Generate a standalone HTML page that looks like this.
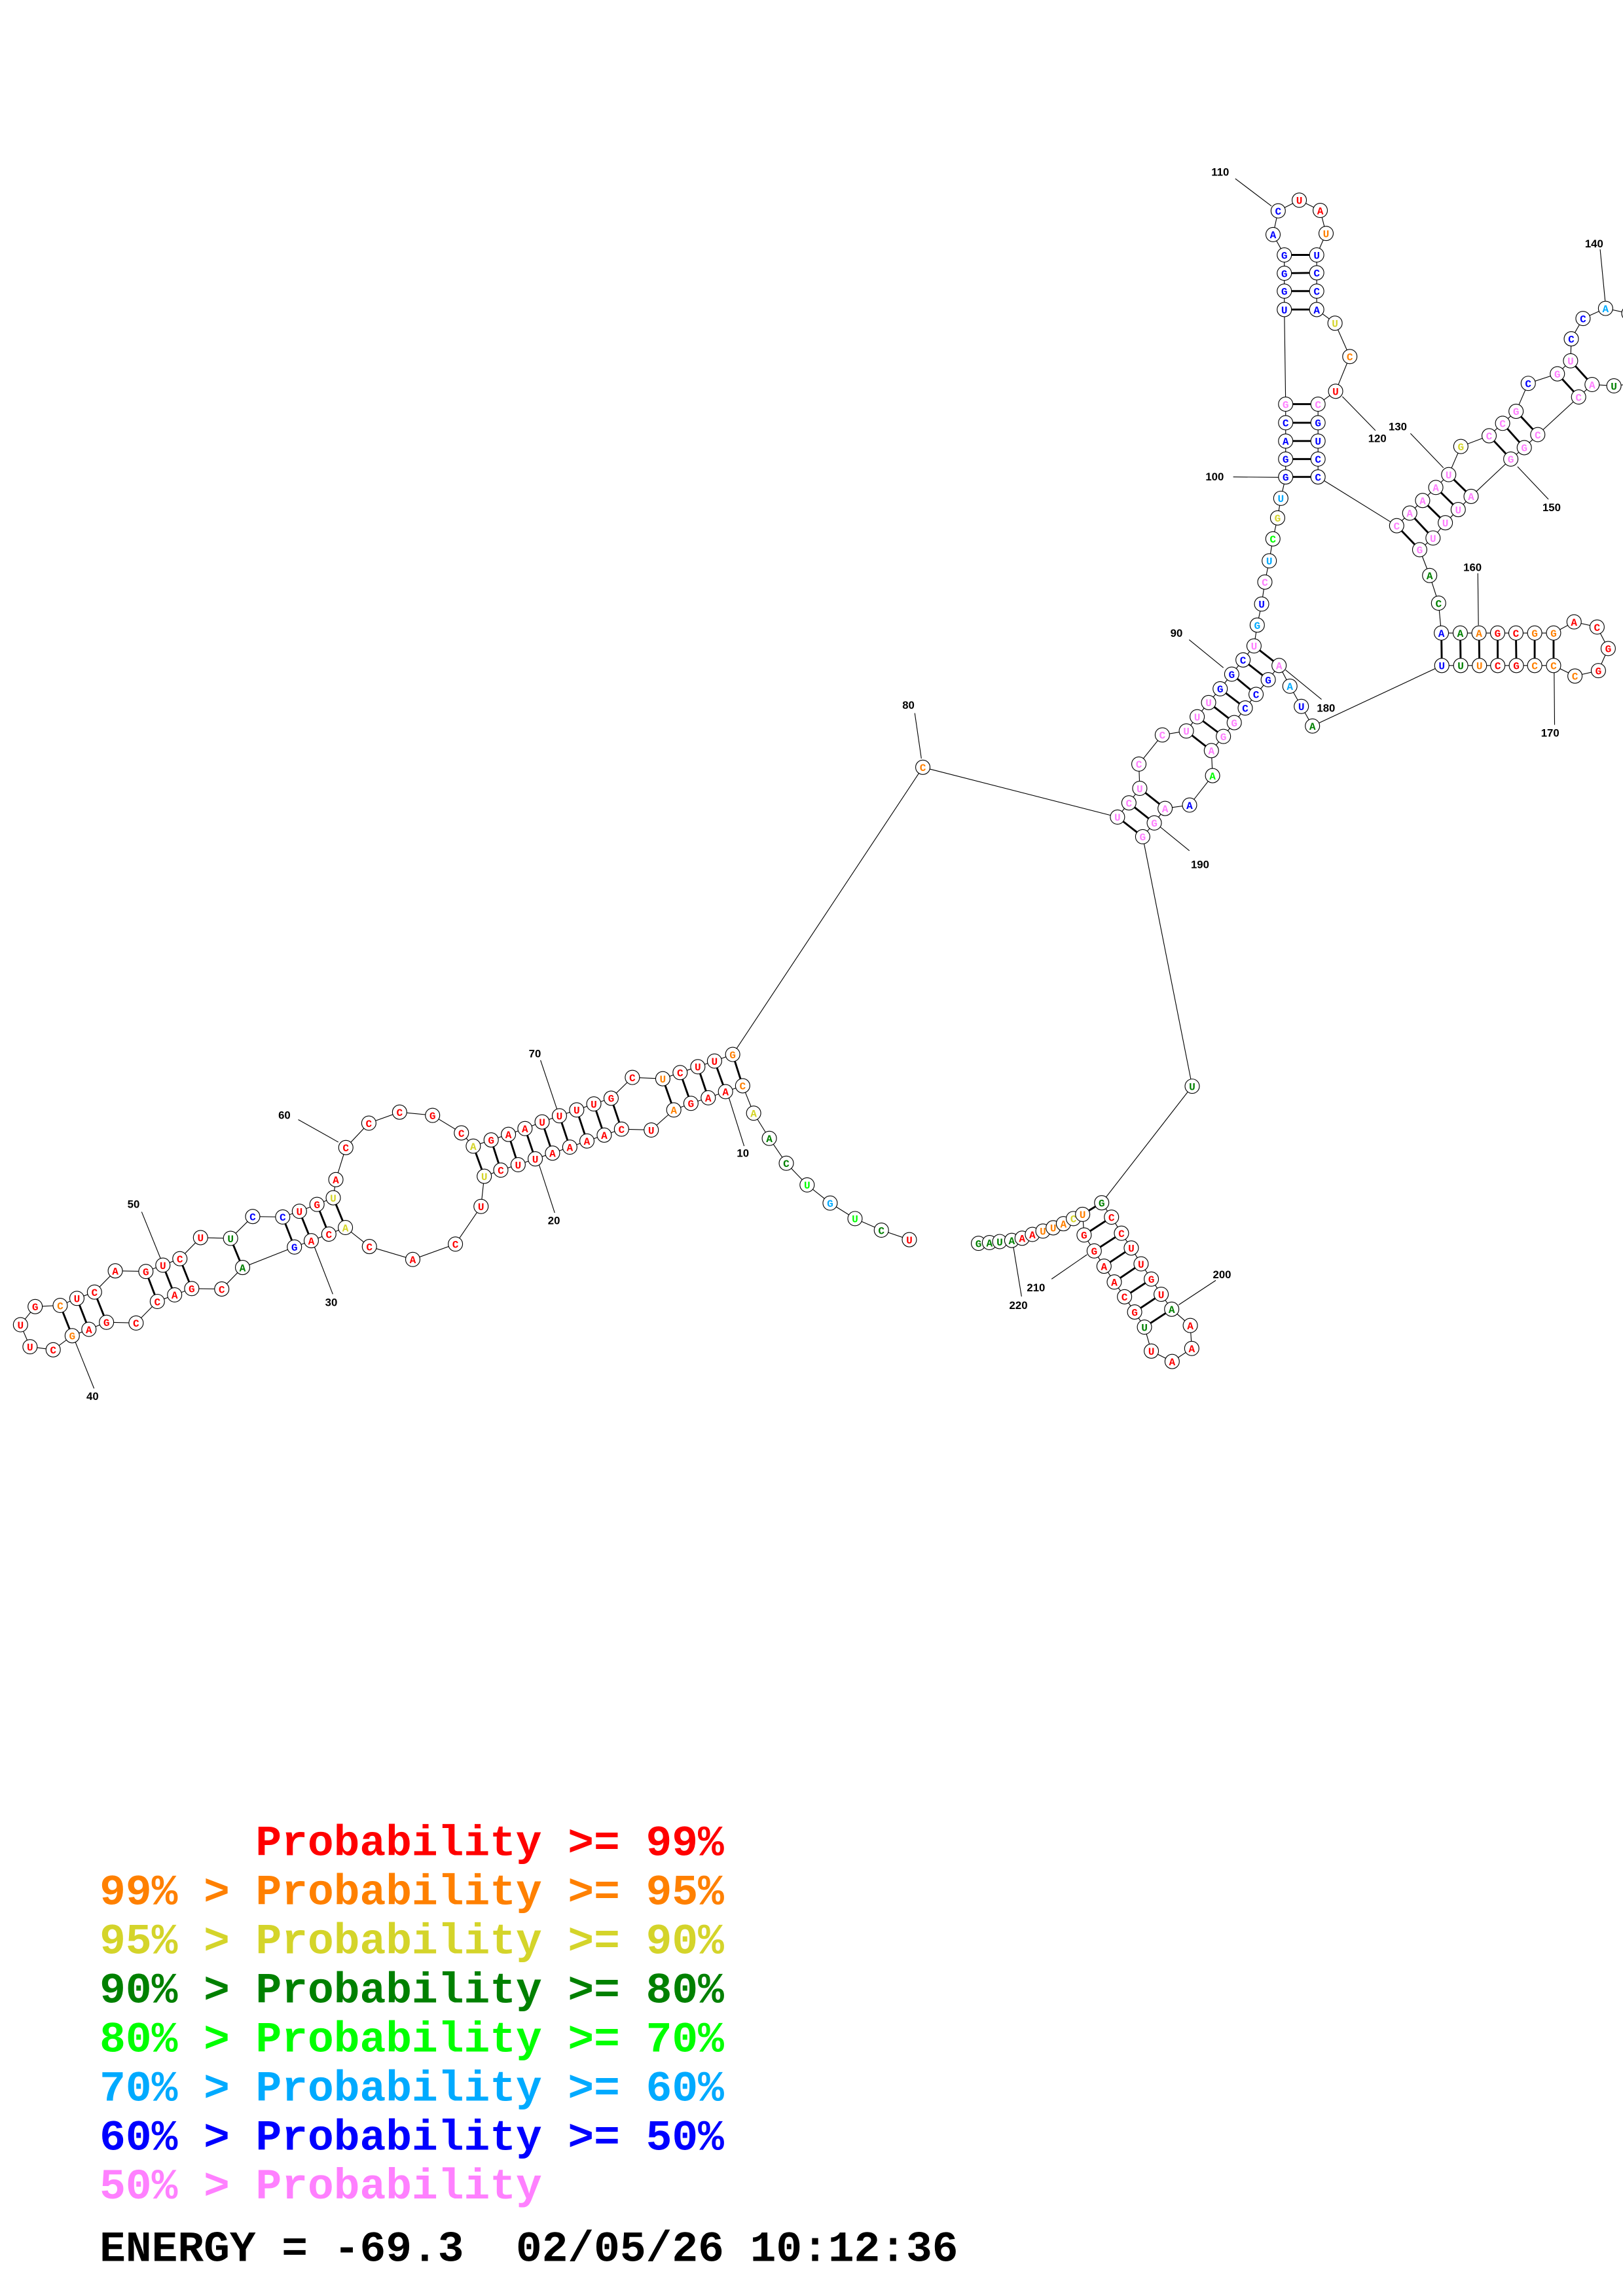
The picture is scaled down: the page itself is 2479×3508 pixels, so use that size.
<!DOCTYPE html>
<html><head><meta charset="utf-8"><style>
html,body{margin:0;padding:0;background:#fff}
svg{display:block}
.bb{fill:none;stroke:#000;stroke-width:.5}
.pr line{stroke:#000;stroke-width:1.3}
.ln line{stroke:#000;stroke-width:.5}
circle{fill:#fff;stroke:#000;stroke-width:.5}
.n{font-family:"Liberation Mono",monospace;font-weight:bold;font-size:7.2px;text-anchor:middle}
.lb{font-family:"Liberation Sans","DejaVu Sans",sans-serif;font-weight:bold;font-size:7.5px}
.lg{font-family:"Liberation Mono",monospace;font-weight:bold;font-size:29.6px}
.r{fill:#ff0000}.o{fill:#ff8000}.y{fill:#d4d42a}.g{fill:#008000}.lgr{fill:#00ff00}.lbl{fill:#00aaff}.b{fill:#0000ff}.p{fill:#ff80ff}.k{fill:#000}
</style></head><body>
<svg width="2479" height="3508" viewBox="0 0 1108 1568" preserveAspectRatio="none" xmlns="http://www.w3.org/2000/svg">
<polyline class="bb" points="620.8,846.6 601.7,840.1 583.7,832.2 566.7,821.6 551,809.2 536.8,794.4 525.2,777.4 514.5,760.2 507,741.5 495.3,745.5 483.5,749.7 471.7,753.5 460,758 444.6,771.7 424.3,771.1 412.5,775.2 400.7,779.2 389,783.4 377.2,787.5 365.4,791.4 353.7,795.4 341.9,799.1 330.6,803.3 328.4,823.9 310.9,849.6 281.8,860.1 252.2,851.3 235.8,838.3 224.5,842.8 212.5,847.3 201,851.6 165.6,865.6 151.4,880.3 130.9,880 119.2,884.3 107.4,888.8 92.9,903.5 72.7,903 60.7,907.8 49.3,912.2 36.3,921.8 20.5,919.7 14,904.7 24,892.3 41.1,891.5 52.5,886.7 64.5,882.4 78.7,867.9 99.6,868.3 111.2,864 122.8,859.6 136.9,845.2 157.4,845.7 172.5,830.8 193,831.1 204.4,827.2 216.4,822.5 227.5,818 229.3,805.6 236.1,783.7 251.8,767 272.8,759.5 295.3,761.7 315,773.7 323.1,782.7 335.3,778.5 347.1,774.7 358.4,770.7 370.1,766.2 381.9,762 393.7,758 405.4,753.9 417.2,750 431.7,735.8 452.5,736.7 464.3,732.5 476.4,728.5 487.8,724.6 500.2,720.1 630,524 762.9,558 770.7,548.3 778.1,538.4 777.5,521.8 793.5,501.9 809.9,499.2 817.3,489.5 825.1,479.8 833,470.4 840.9,460.4 848.6,450.7 856.1,441.1 858.3,426.9 861.3,412.5 863.5,397.5 866.5,383 869,368 872.2,353.7 874.4,340.3 877.7,325.7 877.7,313.5 877.7,301.2 877.7,288.7 877.7,276 876.8,211.4 876.8,198.8 876.8,186.6 876.8,174.1 869.1,160.2 872.6,144 887,136.7 901.3,143.7 905.3,159.4 898.9,174.1 898.9,186.3 898.9,198.8 898.9,211.4 911.4,220.7 921.5,243.5 911.8,267.2 899.8,276 899.8,288.7 899.8,301.2 899.8,313.5 899.8,325.7 953.5,359 962.4,350.4 971.2,341.8 980.2,332.9 989,324.1 997.3,304.9 1016.6,297.6 1025.8,289.1 1035,280.9 1043.3,261.8 1063.2,255.3 1072.2,246.4 1072.7,231.4 1080.7,217.5 1096.1,210.6 1112,214 1125,235 1115,262 1101.8,263.5 1086.9,262.6 1077.7,271.1 1049.8,296.8 1040.6,305.7 1031.4,313.5 1004.3,339 995.5,348 986.7,357 978.3,367.4 969.2,375.4 976,393 982.1,411.9 984,432.3 996.9,432.3 1009.7,432.3 1022.4,432.3 1034.9,432.3 1047.7,432.3 1060.6,432.3 1074.6,424.7 1090.3,428.2 1097.9,442.9 1091.2,458 1075.2,461.7 1060.6,454.5 1047.7,454.5 1035.2,454.5 1022.5,454.5 1010,454.5 997.2,454.5 984.3,454.5 896,495.8 888.4,482.4 880.6,468.6 873.2,454.5 865.8,464.2 857.5,474.2 850.1,483.5 842.6,493.5 835.2,502.9 827,512.6 827.8,529.7 812.1,549.8 795.4,552.1 788,562 780.1,571.4 813.9,741.8 752.1,821.4 758.8,831.2 765.6,842.2 772.3,852.3 779,863.1 786,873.5 792.7,883.9 799.9,894.1 812.6,905.2 813.6,920.9 800.2,929.8 786,922.7 781.3,906.3 774.6,896 767.7,885.6 760.7,875.5 753.7,864.7 747,854.3 740.1,843.4 739.1,829.3 732.8,832.2 726,835.7 719,838.5 712,840.7 704.8,843 697.8,845.6 690.7,847.1 682.5,847.9 675.5,848.6 668,849.1"/>
<g class="pr">
<line x1="500.2" y1="720.1" x2="507" y2="741.5"/><line x1="487.8" y1="724.6" x2="495.3" y2="745.5"/><line x1="476.4" y1="728.5" x2="483.5" y2="749.7"/><line x1="464.3" y1="732.5" x2="471.7" y2="753.5"/><line x1="452.5" y1="736.7" x2="460" y2="758"/>
<line x1="417.2" y1="750" x2="424.3" y2="771.1"/><line x1="405.4" y1="753.9" x2="412.5" y2="775.2"/><line x1="393.7" y1="758" x2="400.7" y2="779.2"/><line x1="381.9" y1="762" x2="389" y2="783.4"/><line x1="370.1" y1="766.2" x2="377.2" y2="787.5"/><line x1="358.4" y1="770.7" x2="365.4" y2="791.4"/><line x1="347.1" y1="774.7" x2="353.7" y2="795.4"/><line x1="335.3" y1="778.5" x2="341.9" y2="799.1"/><line x1="323.1" y1="782.7" x2="330.6" y2="803.3"/>
<line x1="227.5" y1="818" x2="235.8" y2="838.3"/><line x1="216.4" y1="822.5" x2="224.5" y2="842.8"/><line x1="204.4" y1="827.2" x2="212.5" y2="847.3"/><line x1="193" y1="831.1" x2="201" y2="851.6"/>
<line x1="157.4" y1="845.7" x2="165.6" y2="865.6"/><line x1="122.8" y1="859.6" x2="130.9" y2="880"/><line x1="111.2" y1="864" x2="119.2" y2="884.3"/><line x1="99.6" y1="868.3" x2="107.4" y2="888.8"/>
<line x1="64.5" y1="882.4" x2="72.7" y2="903"/><line x1="52.5" y1="886.7" x2="60.7" y2="907.8"/><line x1="41.1" y1="891.5" x2="49.3" y2="912.2"/>
<line x1="856.1" y1="441.1" x2="873.2" y2="454.5"/><line x1="848.6" y1="450.7" x2="865.8" y2="464.2"/><line x1="840.9" y1="460.4" x2="857.5" y2="474.2"/><line x1="833" y1="470.4" x2="850.1" y2="483.5"/><line x1="825.1" y1="479.8" x2="842.6" y2="493.5"/><line x1="817.3" y1="489.5" x2="835.2" y2="502.9"/><line x1="809.9" y1="499.2" x2="827" y2="512.6"/>
<line x1="778.1" y1="538.4" x2="795.4" y2="552.1"/><line x1="770.7" y1="548.3" x2="788" y2="562"/><line x1="762.9" y1="558" x2="780.1" y2="571.4"/>
<line x1="876.8" y1="174.1" x2="898.9" y2="174.1"/><line x1="876.8" y1="186.6" x2="898.9" y2="186.3"/><line x1="876.8" y1="198.8" x2="898.9" y2="198.8"/><line x1="876.8" y1="211.4" x2="898.9" y2="211.4"/>
<line x1="877.7" y1="276" x2="899.8" y2="276"/><line x1="877.7" y1="288.7" x2="899.8" y2="288.7"/><line x1="877.7" y1="301.2" x2="899.8" y2="301.2"/><line x1="877.7" y1="313.5" x2="899.8" y2="313.5"/><line x1="877.7" y1="325.7" x2="899.8" y2="325.7"/>
<line x1="989" y1="324.1" x2="1004.3" y2="339"/><line x1="980.2" y1="332.9" x2="995.5" y2="348"/><line x1="971.2" y1="341.8" x2="986.7" y2="357"/><line x1="962.4" y1="350.4" x2="978.3" y2="367.4"/><line x1="953.5" y1="359" x2="969.2" y2="375.4"/>
<line x1="1016.6" y1="297.6" x2="1031.4" y2="313.5"/><line x1="1025.8" y1="289.1" x2="1040.6" y2="305.7"/><line x1="1035" y1="280.9" x2="1049.8" y2="296.8"/>
<line x1="1063.2" y1="255.3" x2="1077.7" y2="271.1"/><line x1="1072.2" y1="246.4" x2="1086.9" y2="262.6"/>
<line x1="984" y1="432.3" x2="984.3" y2="454.5"/><line x1="996.9" y1="432.3" x2="997.2" y2="454.5"/><line x1="1009.7" y1="432.3" x2="1010" y2="454.5"/><line x1="1022.4" y1="432.3" x2="1022.5" y2="454.5"/><line x1="1034.9" y1="432.3" x2="1035.2" y2="454.5"/><line x1="1047.7" y1="432.3" x2="1047.7" y2="454.5"/><line x1="1060.6" y1="432.3" x2="1060.6" y2="454.5"/>
<line x1="752.1" y1="821.4" x2="739.1" y2="829.3"/><line x1="758.8" y1="831.2" x2="740.1" y2="843.4"/><line x1="765.6" y1="842.2" x2="747" y2="854.3"/><line x1="772.3" y1="852.3" x2="753.7" y2="864.7"/><line x1="779" y1="863.1" x2="760.7" y2="875.5"/><line x1="786" y1="873.5" x2="767.7" y2="885.6"/><line x1="792.7" y1="883.9" x2="774.6" y2="896"/><line x1="799.9" y1="894.1" x2="781.3" y2="906.3"/>
</g>
<g class="ln">
<line x1="203.6" y1="764.6" x2="231" y2="780"/><line x1="96.7" y1="827.6" x2="109.5" y2="859.2"/><line x1="214.7" y1="851.6" x2="227.2" y2="883.8"/><line x1="51.3" y1="916.2" x2="64.2" y2="948.2"/>
<line x1="369" y1="724" x2="380.4" y2="758"/><line x1="368" y1="795.4" x2="378.7" y2="828.3"/><line x1="497.4" y1="749" x2="508" y2="782.7"/>
<line x1="624.5" y1="487" x2="629" y2="518"/>
<line x1="811.8" y1="436.9" x2="835.2" y2="456"/><line x1="877.6" y1="457.5" x2="902.2" y2="477.6"/><line x1="792" y1="564.7" x2="812" y2="581"/>
<line x1="843.3" y1="122" x2="868" y2="140.7"/><line x1="916.4" y1="270.8" x2="939" y2="294"/><line x1="841.9" y1="325.7" x2="873.2" y2="326"/>
<line x1="962.9" y1="296" x2="985.4" y2="319.5"/><line x1="1036" y1="318.7" x2="1057.1" y2="341"/><line x1="1092.4" y1="170.3" x2="1095.8" y2="205.4"/>
<line x1="1008.9" y1="391.5" x2="1009.3" y2="427"/><line x1="1061" y1="459.5" x2="1061.3" y2="495"/>
<line x1="830" y1="874.4" x2="804.7" y2="891.1"/><line x1="717.9" y1="873.5" x2="742.1" y2="856.8"/><line x1="697.4" y1="885.4" x2="691.7" y2="850.9"/>
</g>
<g class="lb k">
<text x="190" y="764">60</text><text x="87" y="825">50</text><text x="222" y="892">30</text><text x="59" y="956">40</text>
<text x="361" y="722">70</text><text x="374" y="836">20</text><text x="503" y="790">10</text><text x="616" y="484">80</text>
<text x="799" y="435">90</text><text x="899" y="486">180</text><text x="813" y="593">190</text>
<text x="827" y="120">110</text><text x="934" y="302">120</text><text x="823" y="328">100</text><text x="948" y="294">130</text>
<text x="1053" y="349">150</text><text x="1082" y="169">140</text><text x="999" y="390">160</text><text x="1052" y="503">170</text>
<text x="828" y="873">200</text><text x="701" y="882">210</text><text x="689" y="894">220</text>
</g>
<g id="nodes">
<circle cx="620.8" cy="846.6" r="4.9"/><text class="n r" x="620.8" y="849.2">U</text>
<circle cx="601.7" cy="840.1" r="4.9"/><text class="n g" x="601.7" y="842.7">C</text>
<circle cx="583.7" cy="832.2" r="4.9"/><text class="n lgr" x="583.7" y="834.8">U</text>
<circle cx="566.7" cy="821.6" r="4.9"/><text class="n lbl" x="566.7" y="824.2">G</text>
<circle cx="551" cy="809.2" r="4.9"/><text class="n lgr" x="551" y="811.8">U</text>
<circle cx="536.8" cy="794.4" r="4.9"/><text class="n g" x="536.8" y="797">C</text>
<circle cx="525.2" cy="777.4" r="4.9"/><text class="n g" x="525.2" y="780">A</text>
<circle cx="514.5" cy="760.2" r="4.9"/><text class="n y" x="514.5" y="762.8">A</text>
<circle cx="507" cy="741.5" r="4.9"/><text class="n o" x="507" y="744.1">C</text>
<circle cx="495.3" cy="745.5" r="4.9"/><text class="n r" x="495.3" y="748.1">A</text>
<circle cx="483.5" cy="749.7" r="4.9"/><text class="n r" x="483.5" y="752.3">A</text>
<circle cx="471.7" cy="753.5" r="4.9"/><text class="n r" x="471.7" y="756.1">G</text>
<circle cx="460" cy="758" r="4.9"/><text class="n o" x="460" y="760.6">A</text>
<circle cx="444.6" cy="771.7" r="4.9"/><text class="n r" x="444.6" y="774.3">U</text>
<circle cx="424.3" cy="771.1" r="4.9"/><text class="n r" x="424.3" y="773.7">C</text>
<circle cx="412.5" cy="775.2" r="4.9"/><text class="n r" x="412.5" y="777.8">A</text>
<circle cx="400.7" cy="779.2" r="4.9"/><text class="n r" x="400.7" y="781.8">A</text>
<circle cx="389" cy="783.4" r="4.9"/><text class="n r" x="389" y="786">A</text>
<circle cx="377.2" cy="787.5" r="4.9"/><text class="n r" x="377.2" y="790.1">A</text>
<circle cx="365.4" cy="791.4" r="4.9"/><text class="n r" x="365.4" y="794">U</text>
<circle cx="353.7" cy="795.4" r="4.9"/><text class="n r" x="353.7" y="798">U</text>
<circle cx="341.9" cy="799.1" r="4.9"/><text class="n r" x="341.9" y="801.7">C</text>
<circle cx="330.6" cy="803.3" r="4.9"/><text class="n y" x="330.6" y="805.9">U</text>
<circle cx="328.4" cy="823.9" r="4.9"/><text class="n r" x="328.4" y="826.5">U</text>
<circle cx="310.9" cy="849.6" r="4.9"/><text class="n r" x="310.9" y="852.2">C</text>
<circle cx="281.8" cy="860.1" r="4.9"/><text class="n r" x="281.8" y="862.7">A</text>
<circle cx="252.2" cy="851.3" r="4.9"/><text class="n r" x="252.2" y="853.9">C</text>
<circle cx="235.8" cy="838.3" r="4.9"/><text class="n y" x="235.8" y="840.9">A</text>
<circle cx="224.5" cy="842.8" r="4.9"/><text class="n r" x="224.5" y="845.4">C</text>
<circle cx="212.5" cy="847.3" r="4.9"/><text class="n r" x="212.5" y="849.9">A</text>
<circle cx="201" cy="851.6" r="4.9"/><text class="n b" x="201" y="854.2">G</text>
<circle cx="165.6" cy="865.6" r="4.9"/><text class="n g" x="165.6" y="868.2">A</text>
<circle cx="151.4" cy="880.3" r="4.9"/><text class="n r" x="151.4" y="882.9">C</text>
<circle cx="130.9" cy="880" r="4.9"/><text class="n r" x="130.9" y="882.6">G</text>
<circle cx="119.2" cy="884.3" r="4.9"/><text class="n r" x="119.2" y="886.9">A</text>
<circle cx="107.4" cy="888.8" r="4.9"/><text class="n r" x="107.4" y="891.4">C</text>
<circle cx="92.9" cy="903.5" r="4.9"/><text class="n r" x="92.9" y="906.1">C</text>
<circle cx="72.7" cy="903" r="4.9"/><text class="n r" x="72.7" y="905.6">G</text>
<circle cx="60.7" cy="907.8" r="4.9"/><text class="n r" x="60.7" y="910.4">A</text>
<circle cx="49.3" cy="912.2" r="4.9"/><text class="n o" x="49.3" y="914.8">G</text>
<circle cx="36.3" cy="921.8" r="4.9"/><text class="n r" x="36.3" y="924.4">C</text>
<circle cx="20.5" cy="919.7" r="4.9"/><text class="n r" x="20.5" y="922.3">U</text>
<circle cx="14" cy="904.7" r="4.9"/><text class="n r" x="14" y="907.3">U</text>
<circle cx="24" cy="892.3" r="4.9"/><text class="n r" x="24" y="894.9">G</text>
<circle cx="41.1" cy="891.5" r="4.9"/><text class="n o" x="41.1" y="894.1">C</text>
<circle cx="52.5" cy="886.7" r="4.9"/><text class="n r" x="52.5" y="889.3">U</text>
<circle cx="64.5" cy="882.4" r="4.9"/><text class="n r" x="64.5" y="885">C</text>
<circle cx="78.7" cy="867.9" r="4.9"/><text class="n r" x="78.7" y="870.5">A</text>
<circle cx="99.6" cy="868.3" r="4.9"/><text class="n r" x="99.6" y="870.9">G</text>
<circle cx="111.2" cy="864" r="4.9"/><text class="n r" x="111.2" y="866.6">U</text>
<circle cx="122.8" cy="859.6" r="4.9"/><text class="n r" x="122.8" y="862.2">C</text>
<circle cx="136.9" cy="845.2" r="4.9"/><text class="n r" x="136.9" y="847.8">U</text>
<circle cx="157.4" cy="845.7" r="4.9"/><text class="n g" x="157.4" y="848.3">U</text>
<circle cx="172.5" cy="830.8" r="4.9"/><text class="n b" x="172.5" y="833.4">C</text>
<circle cx="193" cy="831.1" r="4.9"/><text class="n b" x="193" y="833.7">C</text>
<circle cx="204.4" cy="827.2" r="4.9"/><text class="n r" x="204.4" y="829.8">U</text>
<circle cx="216.4" cy="822.5" r="4.9"/><text class="n r" x="216.4" y="825.1">G</text>
<circle cx="227.5" cy="818" r="4.9"/><text class="n y" x="227.5" y="820.6">U</text>
<circle cx="229.3" cy="805.6" r="4.9"/><text class="n r" x="229.3" y="808.2">A</text>
<circle cx="236.1" cy="783.7" r="4.9"/><text class="n r" x="236.1" y="786.3">C</text>
<circle cx="251.8" cy="767" r="4.9"/><text class="n r" x="251.8" y="769.6">C</text>
<circle cx="272.8" cy="759.5" r="4.9"/><text class="n r" x="272.8" y="762.1">C</text>
<circle cx="295.3" cy="761.7" r="4.9"/><text class="n r" x="295.3" y="764.3">G</text>
<circle cx="315" cy="773.7" r="4.9"/><text class="n r" x="315" y="776.3">C</text>
<circle cx="323.1" cy="782.7" r="4.9"/><text class="n y" x="323.1" y="785.3">A</text>
<circle cx="335.3" cy="778.5" r="4.9"/><text class="n r" x="335.3" y="781.1">G</text>
<circle cx="347.1" cy="774.7" r="4.9"/><text class="n r" x="347.1" y="777.3">A</text>
<circle cx="358.4" cy="770.7" r="4.9"/><text class="n r" x="358.4" y="773.3">A</text>
<circle cx="370.1" cy="766.2" r="4.9"/><text class="n r" x="370.1" y="768.8">U</text>
<circle cx="381.9" cy="762" r="4.9"/><text class="n r" x="381.9" y="764.6">U</text>
<circle cx="393.7" cy="758" r="4.9"/><text class="n r" x="393.7" y="760.6">U</text>
<circle cx="405.4" cy="753.9" r="4.9"/><text class="n r" x="405.4" y="756.5">U</text>
<circle cx="417.2" cy="750" r="4.9"/><text class="n r" x="417.2" y="752.6">G</text>
<circle cx="431.7" cy="735.8" r="4.9"/><text class="n r" x="431.7" y="738.4">C</text>
<circle cx="452.5" cy="736.7" r="4.9"/><text class="n o" x="452.5" y="739.3">U</text>
<circle cx="464.3" cy="732.5" r="4.9"/><text class="n r" x="464.3" y="735.1">C</text>
<circle cx="476.4" cy="728.5" r="4.9"/><text class="n r" x="476.4" y="731.1">U</text>
<circle cx="487.8" cy="724.6" r="4.9"/><text class="n r" x="487.8" y="727.2">U</text>
<circle cx="500.2" cy="720.1" r="4.9"/><text class="n o" x="500.2" y="722.7">G</text>
<circle cx="630" cy="524" r="4.9"/><text class="n o" x="630" y="526.6">C</text>
<circle cx="762.9" cy="558" r="4.9"/><text class="n p" x="762.9" y="560.6">U</text>
<circle cx="770.7" cy="548.3" r="4.9"/><text class="n p" x="770.7" y="550.9">C</text>
<circle cx="778.1" cy="538.4" r="4.9"/><text class="n p" x="778.1" y="541">U</text>
<circle cx="777.5" cy="521.8" r="4.9"/><text class="n p" x="777.5" y="524.4">C</text>
<circle cx="793.5" cy="501.9" r="4.9"/><text class="n p" x="793.5" y="504.5">C</text>
<circle cx="809.9" cy="499.2" r="4.9"/><text class="n p" x="809.9" y="501.8">U</text>
<circle cx="817.3" cy="489.5" r="4.9"/><text class="n p" x="817.3" y="492.1">U</text>
<circle cx="825.1" cy="479.8" r="4.9"/><text class="n p" x="825.1" y="482.4">U</text>
<circle cx="833" cy="470.4" r="4.9"/><text class="n b" x="833" y="473">G</text>
<circle cx="840.9" cy="460.4" r="4.9"/><text class="n b" x="840.9" y="463">G</text>
<circle cx="848.6" cy="450.7" r="4.9"/><text class="n b" x="848.6" y="453.3">C</text>
<circle cx="856.1" cy="441.1" r="4.9"/><text class="n p" x="856.1" y="443.7">U</text>
<circle cx="858.3" cy="426.9" r="4.9"/><text class="n lbl" x="858.3" y="429.5">G</text>
<circle cx="861.3" cy="412.5" r="4.9"/><text class="n b" x="861.3" y="415.1">U</text>
<circle cx="863.5" cy="397.5" r="4.9"/><text class="n p" x="863.5" y="400.1">C</text>
<circle cx="866.5" cy="383" r="4.9"/><text class="n lbl" x="866.5" y="385.6">U</text>
<circle cx="869" cy="368" r="4.9"/><text class="n lgr" x="869" y="370.6">C</text>
<circle cx="872.2" cy="353.7" r="4.9"/><text class="n y" x="872.2" y="356.3">G</text>
<circle cx="874.4" cy="340.3" r="4.9"/><text class="n lbl" x="874.4" y="342.9">U</text>
<circle cx="877.7" cy="325.7" r="4.9"/><text class="n b" x="877.7" y="328.3">G</text>
<circle cx="877.7" cy="313.5" r="4.9"/><text class="n b" x="877.7" y="316.1">G</text>
<circle cx="877.7" cy="301.2" r="4.9"/><text class="n b" x="877.7" y="303.8">A</text>
<circle cx="877.7" cy="288.7" r="4.9"/><text class="n b" x="877.7" y="291.3">C</text>
<circle cx="877.7" cy="276" r="4.9"/><text class="n p" x="877.7" y="278.6">G</text>
<circle cx="876.8" cy="211.4" r="4.9"/><text class="n b" x="876.8" y="214">U</text>
<circle cx="876.8" cy="198.8" r="4.9"/><text class="n b" x="876.8" y="201.4">G</text>
<circle cx="876.8" cy="186.6" r="4.9"/><text class="n b" x="876.8" y="189.2">G</text>
<circle cx="876.8" cy="174.1" r="4.9"/><text class="n b" x="876.8" y="176.7">G</text>
<circle cx="869.1" cy="160.2" r="4.9"/><text class="n b" x="869.1" y="162.8">A</text>
<circle cx="872.6" cy="144" r="4.9"/><text class="n b" x="872.6" y="146.6">C</text>
<circle cx="887" cy="136.7" r="4.9"/><text class="n r" x="887" y="139.3">U</text>
<circle cx="901.3" cy="143.7" r="4.9"/><text class="n r" x="901.3" y="146.3">A</text>
<circle cx="905.3" cy="159.4" r="4.9"/><text class="n o" x="905.3" y="162">U</text>
<circle cx="898.9" cy="174.1" r="4.9"/><text class="n b" x="898.9" y="176.7">U</text>
<circle cx="898.9" cy="186.3" r="4.9"/><text class="n b" x="898.9" y="188.9">C</text>
<circle cx="898.9" cy="198.8" r="4.9"/><text class="n b" x="898.9" y="201.4">C</text>
<circle cx="898.9" cy="211.4" r="4.9"/><text class="n b" x="898.9" y="214">A</text>
<circle cx="911.4" cy="220.7" r="4.9"/><text class="n y" x="911.4" y="223.3">U</text>
<circle cx="921.5" cy="243.5" r="4.9"/><text class="n o" x="921.5" y="246.1">C</text>
<circle cx="911.8" cy="267.2" r="4.9"/><text class="n r" x="911.8" y="269.8">U</text>
<circle cx="899.8" cy="276" r="4.9"/><text class="n p" x="899.8" y="278.6">C</text>
<circle cx="899.8" cy="288.7" r="4.9"/><text class="n b" x="899.8" y="291.3">G</text>
<circle cx="899.8" cy="301.2" r="4.9"/><text class="n b" x="899.8" y="303.8">U</text>
<circle cx="899.8" cy="313.5" r="4.9"/><text class="n b" x="899.8" y="316.1">C</text>
<circle cx="899.8" cy="325.7" r="4.9"/><text class="n b" x="899.8" y="328.3">C</text>
<circle cx="953.5" cy="359" r="4.9"/><text class="n p" x="953.5" y="361.6">C</text>
<circle cx="962.4" cy="350.4" r="4.9"/><text class="n p" x="962.4" y="353">A</text>
<circle cx="971.2" cy="341.8" r="4.9"/><text class="n p" x="971.2" y="344.4">A</text>
<circle cx="980.2" cy="332.9" r="4.9"/><text class="n p" x="980.2" y="335.5">A</text>
<circle cx="989" cy="324.1" r="4.9"/><text class="n p" x="989" y="326.7">U</text>
<circle cx="997.3" cy="304.9" r="4.9"/><text class="n y" x="997.3" y="307.5">G</text>
<circle cx="1016.6" cy="297.6" r="4.9"/><text class="n p" x="1016.6" y="300.2">C</text>
<circle cx="1025.8" cy="289.1" r="4.9"/><text class="n p" x="1025.8" y="291.7">C</text>
<circle cx="1035" cy="280.9" r="4.9"/><text class="n p" x="1035" y="283.5">G</text>
<circle cx="1043.3" cy="261.8" r="4.9"/><text class="n b" x="1043.3" y="264.4">C</text>
<circle cx="1063.2" cy="255.3" r="4.9"/><text class="n p" x="1063.2" y="257.9">G</text>
<circle cx="1072.2" cy="246.4" r="4.9"/><text class="n p" x="1072.2" y="249">U</text>
<circle cx="1072.7" cy="231.4" r="4.9"/><text class="n b" x="1072.7" y="234">C</text>
<circle cx="1080.7" cy="217.5" r="4.9"/><text class="n b" x="1080.7" y="220.1">C</text>
<circle cx="1096.1" cy="210.6" r="4.9"/><text class="n lbl" x="1096.1" y="213.2">A</text>
<circle cx="1112" cy="214" r="4.9"/>
<circle cx="1101.8" cy="263.5" r="4.9"/><text class="n g" x="1101.8" y="266.1">U</text>
<circle cx="1086.9" cy="262.6" r="4.9"/><text class="n p" x="1086.9" y="265.2">A</text>
<circle cx="1077.7" cy="271.1" r="4.9"/><text class="n p" x="1077.7" y="273.7">C</text>
<circle cx="1049.8" cy="296.8" r="4.9"/><text class="n p" x="1049.8" y="299.4">C</text>
<circle cx="1040.6" cy="305.7" r="4.9"/><text class="n p" x="1040.6" y="308.3">G</text>
<circle cx="1031.4" cy="313.5" r="4.9"/><text class="n p" x="1031.4" y="316.1">G</text>
<circle cx="1004.3" cy="339" r="4.9"/><text class="n p" x="1004.3" y="341.6">A</text>
<circle cx="995.5" cy="348" r="4.9"/><text class="n p" x="995.5" y="350.6">U</text>
<circle cx="986.7" cy="357" r="4.9"/><text class="n p" x="986.7" y="359.6">U</text>
<circle cx="978.3" cy="367.4" r="4.9"/><text class="n p" x="978.3" y="370">U</text>
<circle cx="969.2" cy="375.4" r="4.9"/><text class="n p" x="969.2" y="378">G</text>
<circle cx="976" cy="393" r="4.9"/><text class="n g" x="976" y="395.6">A</text>
<circle cx="982.1" cy="411.9" r="4.9"/><text class="n g" x="982.1" y="414.5">C</text>
<circle cx="984" cy="432.3" r="4.9"/><text class="n b" x="984" y="434.9">A</text>
<circle cx="996.9" cy="432.3" r="4.9"/><text class="n g" x="996.9" y="434.9">A</text>
<circle cx="1009.7" cy="432.3" r="4.9"/><text class="n o" x="1009.7" y="434.9">A</text>
<circle cx="1022.4" cy="432.3" r="4.9"/><text class="n r" x="1022.4" y="434.9">G</text>
<circle cx="1034.9" cy="432.3" r="4.9"/><text class="n r" x="1034.9" y="434.9">C</text>
<circle cx="1047.7" cy="432.3" r="4.9"/><text class="n o" x="1047.7" y="434.9">G</text>
<circle cx="1060.6" cy="432.3" r="4.9"/><text class="n o" x="1060.6" y="434.9">G</text>
<circle cx="1074.6" cy="424.7" r="4.9"/><text class="n r" x="1074.6" y="427.3">A</text>
<circle cx="1090.3" cy="428.2" r="4.9"/><text class="n r" x="1090.3" y="430.8">C</text>
<circle cx="1097.9" cy="442.9" r="4.9"/><text class="n r" x="1097.9" y="445.5">G</text>
<circle cx="1091.2" cy="458" r="4.9"/><text class="n r" x="1091.2" y="460.6">G</text>
<circle cx="1075.2" cy="461.7" r="4.9"/><text class="n o" x="1075.2" y="464.3">C</text>
<circle cx="1060.6" cy="454.5" r="4.9"/><text class="n o" x="1060.6" y="457.1">C</text>
<circle cx="1047.7" cy="454.5" r="4.9"/><text class="n o" x="1047.7" y="457.1">C</text>
<circle cx="1035.2" cy="454.5" r="4.9"/><text class="n r" x="1035.2" y="457.1">G</text>
<circle cx="1022.5" cy="454.5" r="4.9"/><text class="n r" x="1022.5" y="457.1">C</text>
<circle cx="1010" cy="454.5" r="4.9"/><text class="n o" x="1010" y="457.1">U</text>
<circle cx="997.2" cy="454.5" r="4.9"/><text class="n g" x="997.2" y="457.1">U</text>
<circle cx="984.3" cy="454.5" r="4.9"/><text class="n b" x="984.3" y="457.1">U</text>
<circle cx="896" cy="495.8" r="4.9"/><text class="n g" x="896" y="498.4">A</text>
<circle cx="888.4" cy="482.4" r="4.9"/><text class="n b" x="888.4" y="485">U</text>
<circle cx="880.6" cy="468.6" r="4.9"/><text class="n lbl" x="880.6" y="471.2">A</text>
<circle cx="873.2" cy="454.5" r="4.9"/><text class="n p" x="873.2" y="457.1">A</text>
<circle cx="865.8" cy="464.2" r="4.9"/><text class="n b" x="865.8" y="466.8">G</text>
<circle cx="857.5" cy="474.2" r="4.9"/><text class="n b" x="857.5" y="476.8">C</text>
<circle cx="850.1" cy="483.5" r="4.9"/><text class="n b" x="850.1" y="486.1">C</text>
<circle cx="842.6" cy="493.5" r="4.9"/><text class="n p" x="842.6" y="496.1">G</text>
<circle cx="835.2" cy="502.9" r="4.9"/><text class="n p" x="835.2" y="505.5">G</text>
<circle cx="827" cy="512.6" r="4.9"/><text class="n p" x="827" y="515.2">A</text>
<circle cx="827.8" cy="529.7" r="4.9"/><text class="n lgr" x="827.8" y="532.3">A</text>
<circle cx="812.1" cy="549.8" r="4.9"/><text class="n b" x="812.1" y="552.4">A</text>
<circle cx="795.4" cy="552.1" r="4.9"/><text class="n p" x="795.4" y="554.7">A</text>
<circle cx="788" cy="562" r="4.9"/><text class="n p" x="788" y="564.6">G</text>
<circle cx="780.1" cy="571.4" r="4.9"/><text class="n p" x="780.1" y="574">G</text>
<circle cx="813.9" cy="741.8" r="4.9"/><text class="n g" x="813.9" y="744.4">U</text>
<circle cx="758.8" cy="831.2" r="4.9"/><text class="n r" x="758.8" y="833.8">C</text>
<circle cx="765.6" cy="842.2" r="4.9"/><text class="n r" x="765.6" y="844.8">C</text>
<circle cx="772.3" cy="852.3" r="4.9"/><text class="n r" x="772.3" y="854.9">U</text>
<circle cx="779" cy="863.1" r="4.9"/><text class="n r" x="779" y="865.7">U</text>
<circle cx="786" cy="873.5" r="4.9"/><text class="n r" x="786" y="876.1">G</text>
<circle cx="792.7" cy="883.9" r="4.9"/><text class="n r" x="792.7" y="886.5">U</text>
<circle cx="799.9" cy="894.1" r="4.9"/><text class="n g" x="799.9" y="896.7">A</text>
<circle cx="812.6" cy="905.2" r="4.9"/><text class="n r" x="812.6" y="907.8">A</text>
<circle cx="813.6" cy="920.9" r="4.9"/><text class="n r" x="813.6" y="923.5">A</text>
<circle cx="800.2" cy="929.8" r="4.9"/><text class="n r" x="800.2" y="932.4">A</text>
<circle cx="786" cy="922.7" r="4.9"/><text class="n r" x="786" y="925.3">U</text>
<circle cx="781.3" cy="906.3" r="4.9"/><text class="n g" x="781.3" y="908.9">U</text>
<circle cx="774.6" cy="896" r="4.9"/><text class="n r" x="774.6" y="898.6">G</text>
<circle cx="767.7" cy="885.6" r="4.9"/><text class="n r" x="767.7" y="888.2">C</text>
<circle cx="760.7" cy="875.5" r="4.9"/><text class="n r" x="760.7" y="878.1">A</text>
<circle cx="753.7" cy="864.7" r="4.9"/><text class="n r" x="753.7" y="867.3">A</text>
<circle cx="747" cy="854.3" r="4.9"/><text class="n r" x="747" y="856.9">G</text>
<circle cx="740.1" cy="843.4" r="4.9"/><text class="n r" x="740.1" y="846">G</text>
<circle cx="668" cy="849.1" r="4.9"/><text class="n g" x="668" y="851.7">G</text>
<circle cx="675.5" cy="848.6" r="4.9"/><text class="n g" x="675.5" y="851.2">A</text>
<circle cx="682.5" cy="847.9" r="4.9"/><text class="n g" x="682.5" y="850.5">U</text>
<circle cx="690.7" cy="847.1" r="4.9"/><text class="n g" x="690.7" y="849.7">A</text>
<circle cx="697.8" cy="845.6" r="4.9"/><text class="n r" x="697.8" y="848.2">A</text>
<circle cx="704.8" cy="843" r="4.9"/><text class="n r" x="704.8" y="845.6">A</text>
<circle cx="712" cy="840.7" r="4.9"/><text class="n o" x="712" y="843.3">U</text>
<circle cx="719" cy="838.5" r="4.9"/><text class="n o" x="719" y="841.1">U</text>
<circle cx="726" cy="835.7" r="4.9"/><text class="n o" x="726" y="838.3">A</text>
<circle cx="732.8" cy="832.2" r="4.9"/><text class="n y" x="732.8" y="834.8">C</text>
<circle cx="739.1" cy="829.3" r="4.9"/><text class="n o" x="739.1" y="831.9">U</text>
<circle cx="752.1" cy="821.4" r="4.9"/><text class="n g" x="752.1" y="824">G</text>
</g>
<g class="lg">
<text x="174.5" y="1267" class="r">Probability &gt;= 99%</text>
<text x="68" y="1300.5" class="o" xml:space="preserve">99% &gt; Probability &gt;= 95%</text>
<text x="68" y="1334" class="y" xml:space="preserve">95% &gt; Probability &gt;= 90%</text>
<text x="68" y="1367.5" class="g" xml:space="preserve">90% &gt; Probability &gt;= 80%</text>
<text x="68" y="1401" class="lgr" xml:space="preserve">80% &gt; Probability &gt;= 70%</text>
<text x="68" y="1434.5" class="lbl" xml:space="preserve">70% &gt; Probability &gt;= 60%</text>
<text x="68" y="1468" class="b" xml:space="preserve">60% &gt; Probability &gt;= 50%</text>
<text x="68" y="1501.5" class="p" xml:space="preserve">50% &gt; Probability</text>
<text x="68" y="1544" class="k" xml:space="preserve">ENERGY = -69.3  02/05/26 10:12:36</text>
</g>
</svg>
</body></html>
